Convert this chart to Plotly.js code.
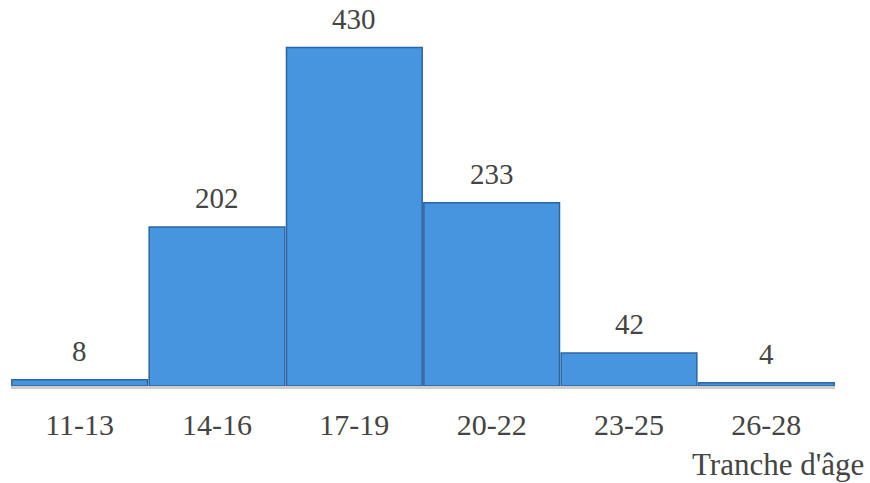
<!DOCTYPE html>
<html>
<head>
<meta charset="utf-8">
<script src="https://cdn.plot.ly/plotly-3.0.1.min.js"></script>
<style>
  html, body { margin: 0; padding: 0; background: #ffffff; }
  #chart { width: 870px; height: 483px; }
</style>
</head>
<body>
<div id="chart"></div>
<script>
// Age brackets and head counts
const ageBrackets = ['11-13', '14-16', '17-19', '20-22', '23-25', '26-28'];
const counts = [8, 202, 430, 233, 42, 4];
const axisTitle = "Tranche d'âge";

const serif = 'Liberation Serif, Times New Roman, serif';
const textGrey = '#444444';

const bars = {
  type: 'bar',
  x: ageBrackets,
  y: counts,
  marker: {
    color: '#4795de',
    line: { color: '#2d64a3', width: 1.5 }
  },
  hoverinfo: 'x+y'
};

// Count labels sitting above each bar
const valueLabels = ageBrackets.map((b, i) => ({
  x: b,
  y: counts[i],
  xref: 'x',
  yref: 'y',
  text: String(counts[i]),
  showarrow: false,
  yanchor: 'bottom',
  yshift: 11,
  font: { family: serif, size: 29, color: textGrey }
}));

const layout = {
  width: 870,
  height: 483,
  margin: { l: 11, r: 35, t: 24, b: 97 },
  paper_bgcolor: '#ffffff',
  plot_bgcolor: '#ffffff',
  bargap: 0.012,
  showlegend: false,
  xaxis: {
    type: 'category',
    showgrid: false,
    zeroline: false,
    showline: true,
    linecolor: '#cdcdcd',
    linewidth: 3,
    ticks: '',
    ticklabelstandoff: 10,
    tickfont: { family: serif, size: 30, color: textGrey },
    fixedrange: true
  },
  yaxis: {
    range: [0, 460],
    visible: false,
    showgrid: false,
    zeroline: false,
    fixedrange: true
  },
  annotations: valueLabels.concat([{
    xref: 'paper',
    yref: 'paper',
    x: 1.038,
    y: -0.272,
    xanchor: 'right',
    yanchor: 'bottom',
    text: axisTitle,
    showarrow: false,
    font: { family: serif, size: 31, color: textGrey }
  }])
};

Plotly.newPlot('chart', [bars], layout, { displayModeBar: false, staticPlot: true });
</script>
</body>
</html>
